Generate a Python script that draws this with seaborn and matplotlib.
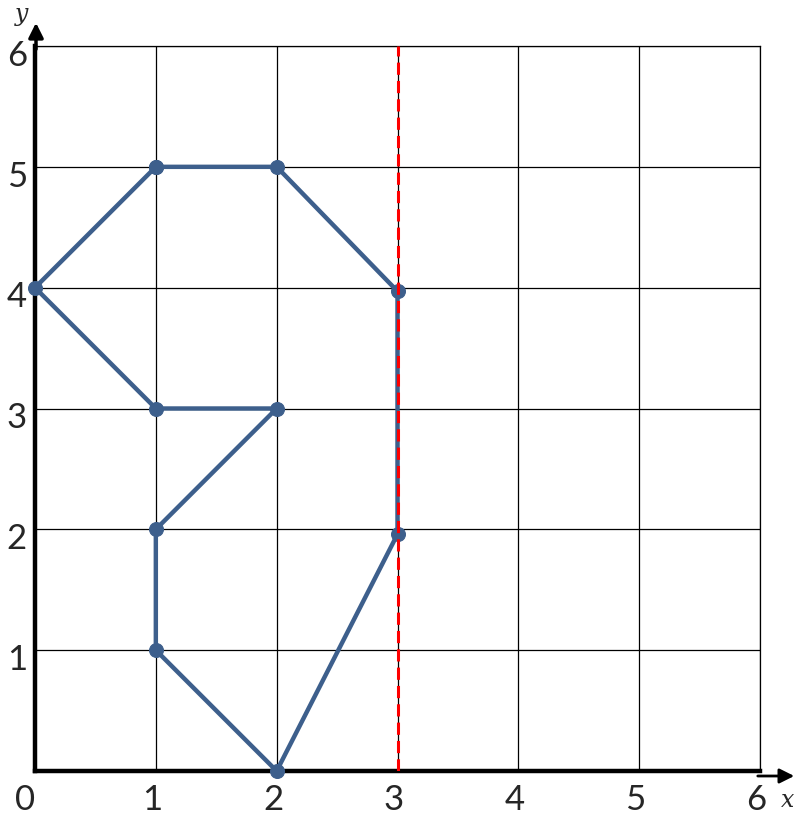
#Import Libraries
import numpy as np
import pandas as pd
import matplotlib
matplotlib.use("Agg")
import matplotlib.pyplot as plt
import seaborn as sns

#Chart data
px = [1, 2, 3, 3, 2, 1, 1, 2, 1, 0, 1]
py = [5, 5, 3.97, 1.96, 0, 1, 2, 3, 3, 4, 5]
mirror_x = 3
ticks = [0, 1, 2, 3, 4, 5, 6]
x_tick_labels = ["0", "1", "2", "3", "4", "5", "6"]
y_tick_labels = ["1", "2", "3", "4", "5", "6"]

df = pd.DataFrame({"x": px, "y": py})

sns.set_style("white")
plt.rcParams['font.family'] = ['Lato', 'DejaVu Sans']

fig = plt.figure(figsize=(7.97, 8.22), dpi=100)
ax = fig.add_axes([35/797, 51/822, 725/797, 725/822])

#Polygon
blue = "#3D5F8C"
sns.lineplot(data=df, x="x", y="y", sort=False, estimator=None,
             color=blue, linewidth=3.2, ax=ax, zorder=3)
sns.scatterplot(data=df, x="x", y="y", color=blue, s=100,
                edgecolor=blue, ax=ax, zorder=4)
for art in ax.lines + ax.collections:
    art.set_clip_on(False)

#Mirror line
ax.axvline(mirror_x, color="red", linestyle=(0, (4, 2)), linewidth=2.2, zorder=5)

#Grid
ax.set_xlim(0, 6)
ax.set_ylim(0, 6)
ax.set_xticks(ticks)
ax.set_yticks(ticks)
ax.grid(True, color="black", linewidth=0.9)
ax.set_axisbelow(True)
ax.tick_params(length=0, labelbottom=False, labelleft=False)
ax.set_xlabel("")
ax.set_ylabel("")

for side in ["top", "right"]:
    ax.spines[side].set_linewidth(0.9)
    ax.spines[side].set_color("black")
for side in ["left", "bottom"]:
    ax.spines[side].set_linewidth(3.2)
    ax.spines[side].set_color("black")
    ax.spines[side].set_zorder(2)

#Tick labels
for i, lab in enumerate(x_tick_labels):
    xx = ticks[i] - 0.03 if i > 0 else -0.08
    ax.text(xx, -0.24, lab, ha="center", va="center", fontsize=25, clip_on=False)
for i, lab in enumerate(y_tick_labels):
    ax.text(-0.15, ticks[i + 1] - 0.08, lab, ha="center", va="center",
            fontsize=25, clip_on=False)

#Axis arrows
ax.annotate("", xy=(797/797, 46/822), xycoords="figure fraction",
            xytext=(755/797, 46/822), textcoords="figure fraction",
            arrowprops=dict(arrowstyle="-|>", color="black", lw=2,
                            mutation_scale=22))
ax.annotate("", xy=(36/797, 802/822), xycoords="figure fraction",
            xytext=(36/797, 770/822), textcoords="figure fraction",
            arrowprops=dict(arrowstyle="-|>", color="black", lw=2.5,
                            mutation_scale=22))
fig.text(788/797, 22/822, "x", ha="center", va="center", fontsize=17,
         style="italic", family="DejaVu Serif")
fig.text(22/797, 808/822, "y", ha="center", va="center", fontsize=17,
         style="italic", family="DejaVu Serif")

plt.savefig("out.png", dpi=100)
